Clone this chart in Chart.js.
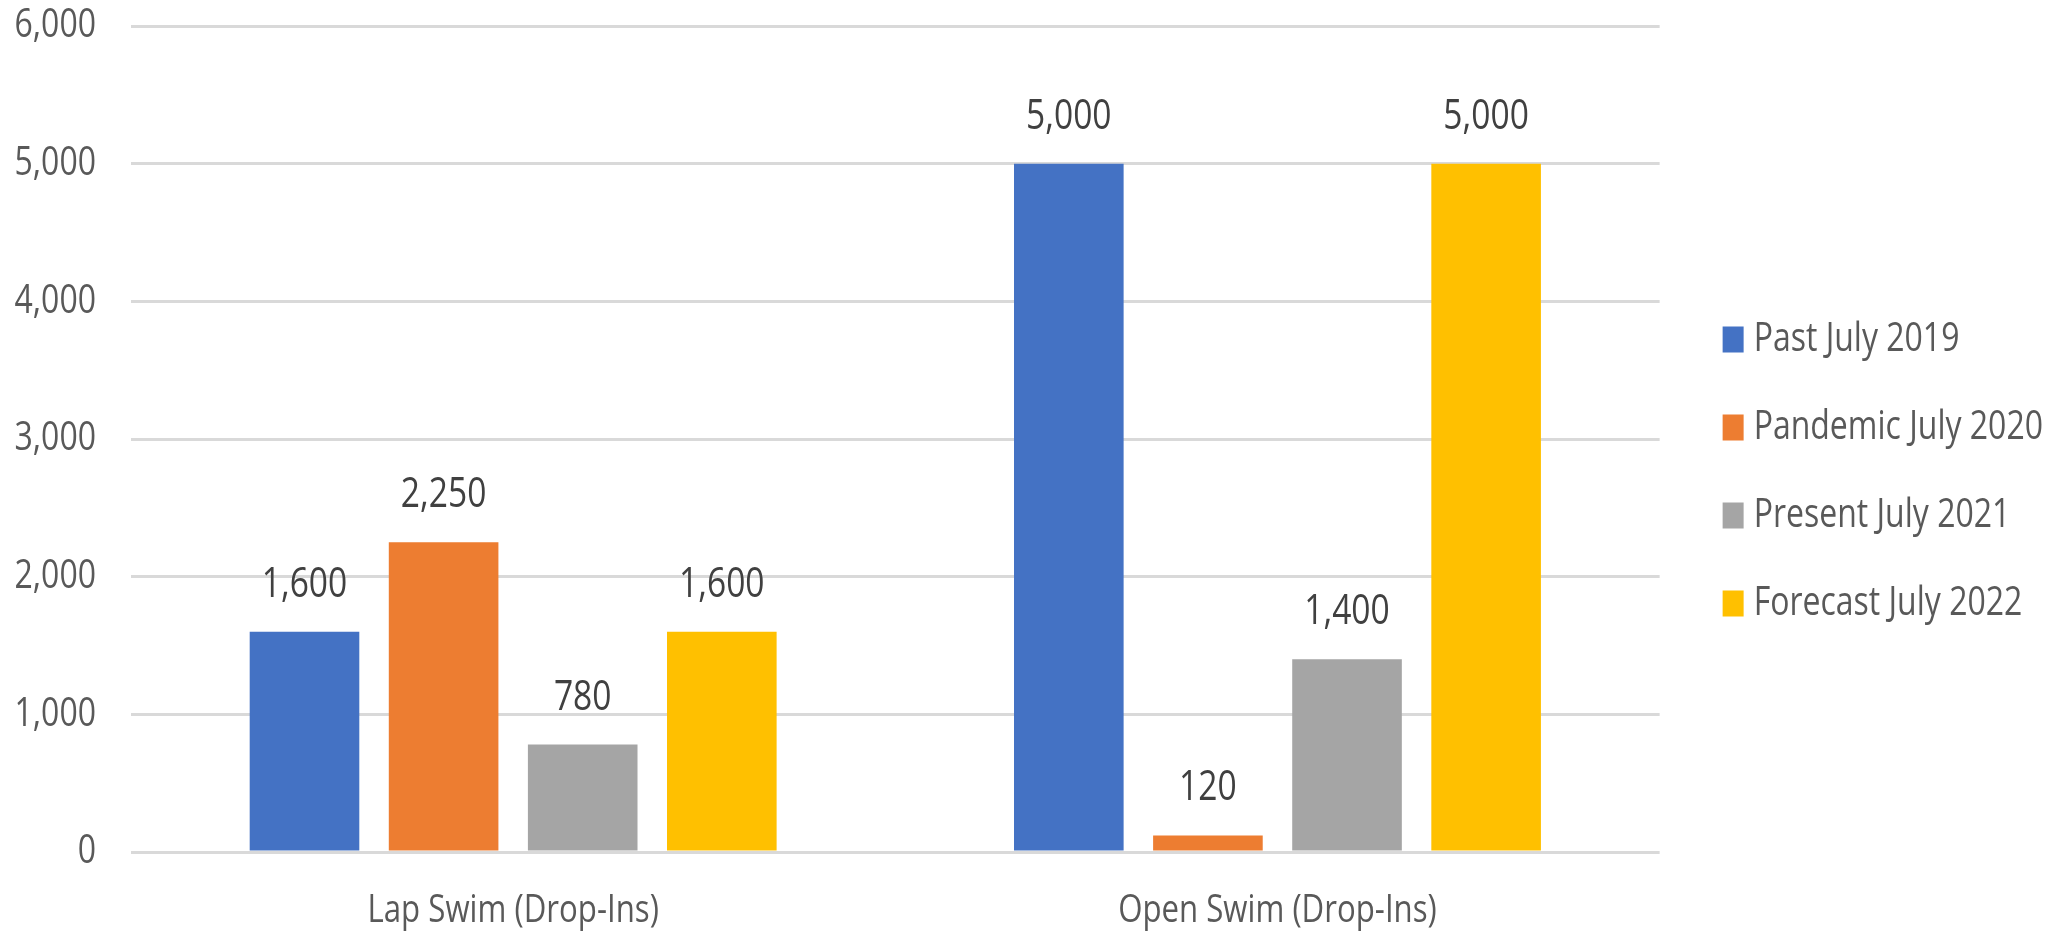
<!DOCTYPE html>
<html>
<head>
<meta charset="utf-8">
<style>
  html, body { margin: 0; padding: 0; background: #ffffff; }
  #chart { display: block; }
</style>
<script src="https://cdn.jsdelivr.net/npm/chart.js@4/dist/chart.umd.min.js"></script>
</head>
<body>
<canvas id="chart" width="2055" height="933"></canvas>
<script>
// Drop-in attendance by program, July of each year
const categories = ['Lap Swim (Drop-Ins)', 'Open Swim (Drop-Ins)'];
const seriesNames = ['Past July 2019', 'Pandemic July 2020', 'Present July 2021', 'Forecast July 2022'];
const past2019 = [1600, 5000];
const pandemic2020 = [2250, 120];
const present2021 = [780, 1400];
const forecast2022 = [1600, 5000];
const yTickValues = [0, 1000, 2000, 3000, 4000, 5000, 6000];

const seriesColors = ['#4472C4', '#ED7D31', '#A5A5A5', '#FFC000'];
const labelFamily = '"Open Sans"';
const fmt = v => v.toLocaleString('en-US');

// Text set in the label face is drawn horizontally condensed
const CONDENSE = 0.8;
(function () {
  const proto = CanvasRenderingContext2D.prototype;
  const nativeFill = proto.fillText;
  const nativeMeasure = proto.measureText;
  const isCondensed = ctx => ctx.font.indexOf('Open Sans') !== -1;
  proto.fillText = function (text, x, y, maxWidth) {
    if (!isCondensed(this)) return nativeFill.apply(this, arguments);
    this.save();
    this.translate(x, y);
    this.scale(CONDENSE, 1);
    if (maxWidth === undefined || maxWidth === null) nativeFill.call(this, text, 0, 0);
    else nativeFill.call(this, text, 0, 0, maxWidth / CONDENSE);
    this.restore();
  };
  proto.measureText = function (text) {
    const m = nativeMeasure.call(this, text);
    if (!isCondensed(this)) return m;
    return {
      width: m.width * CONDENSE,
      actualBoundingBoxLeft: m.actualBoundingBoxLeft * CONDENSE,
      actualBoundingBoxRight: m.actualBoundingBoxRight * CONDENSE,
      actualBoundingBoxAscent: m.actualBoundingBoxAscent,
      actualBoundingBoxDescent: m.actualBoundingBoxDescent,
      fontBoundingBoxAscent: m.fontBoundingBoxAscent,
      fontBoundingBoxDescent: m.fontBoundingBoxDescent
    };
  };
})();

// Value labels above each bar, positioned from the bar elements
const valueLabels = {
  id: 'valueLabels',
  afterDatasetsDraw(chart) {
    const ctx = chart.ctx;
    ctx.save();
    ctx.font = '42px ' + labelFamily;
    ctx.fillStyle = '#404040';
    ctx.textAlign = 'center';
    ctx.textBaseline = 'alphabetic';
    chart.data.datasets.forEach((ds, i) => {
      chart.getDatasetMeta(i).data.forEach((bar, j) => {
        ctx.fillText(fmt(ds.data[j]), bar.x, bar.y - 35);
      });
    });
    ctx.restore();
  }
};

// Lift the legend block slightly above the canvas midline
const legendLift = {
  id: 'legendLift',
  afterLayout(chart) {
    const lg = chart.legend;
    if (lg) { lg.top -= 8; lg.bottom -= 8; }
  }
};

const allSeries = [past2019, pandemic2020, present2021, forecast2022];

new Chart(document.getElementById('chart'), {
  type: 'bar',
  data: {
    labels: categories,
    datasets: allSeries.map((values, i) => ({
      label: seriesNames[i],
      data: values,
      backgroundColor: seriesColors[i],
      borderWidth: 0,
      categoryPercentage: 0.728,
      barPercentage: 0.788
    }))
  },
  options: {
    responsive: false,
    animation: false,
    layout: { padding: { top: 26, left: 0, right: 2, bottom: 0 } },
    plugins: {
      tooltip: { enabled: false },
      legend: {
        position: 'right',
        align: 'center',
        maxWidth: 600,
        labels: {
          // thin box with a wide stroke of the same colour gives a 21x26 swatch
          boxWidth: 1,
          boxHeight: 6,
          padding: 48,
          color: '#595959',
          font: { family: labelFamily, size: 40 },
          generateLabels(chart) {
            return Chart.defaults.plugins.legend.labels.generateLabels(chart).map(item => {
              item.lineWidth = 20;
              item.strokeStyle = item.fillStyle;
              item.lineJoin = 'miter';
              return item;
            });
          }
        }
      }
    },
    scales: {
      x: {
        grid: { display: false, drawTicks: false },
        border: { display: false },
        ticks: {
          color: '#595959',
          padding: 39,
          font: { family: labelFamily, size: 39, lineHeight: 1 }
        },
        afterFit(axis) { axis.height = 81; }
      },
      y: {
        min: 0,
        max: 6000,
        afterBuildTicks(axis) { axis.ticks = yTickValues.map(v => ({ value: v })); },
        grid: { color: '#D9D9D9', lineWidth: 3, drawTicks: false },
        border: { display: false },
        ticks: {
          color: '#595959',
          padding: 35,
          font: { family: labelFamily, size: 40 },
          callback: v => fmt(v)
        },
        afterFit(axis) {
          axis.width = 131;
          axis.paddingTop = 0;
          axis.paddingBottom = 0;
        }
      },
      gap: {
        type: 'linear',
        position: 'right',
        display: true,
        grid: { display: false, drawTicks: false },
        border: { display: false },
        ticks: { display: false },
        afterFit(axis) {
          axis.width = 25;
          axis.paddingTop = 0;
          axis.paddingBottom = 0;
        }
      }
    }
  },
  plugins: [valueLabels, legendLift]
});
</script>
</body>
</html>
